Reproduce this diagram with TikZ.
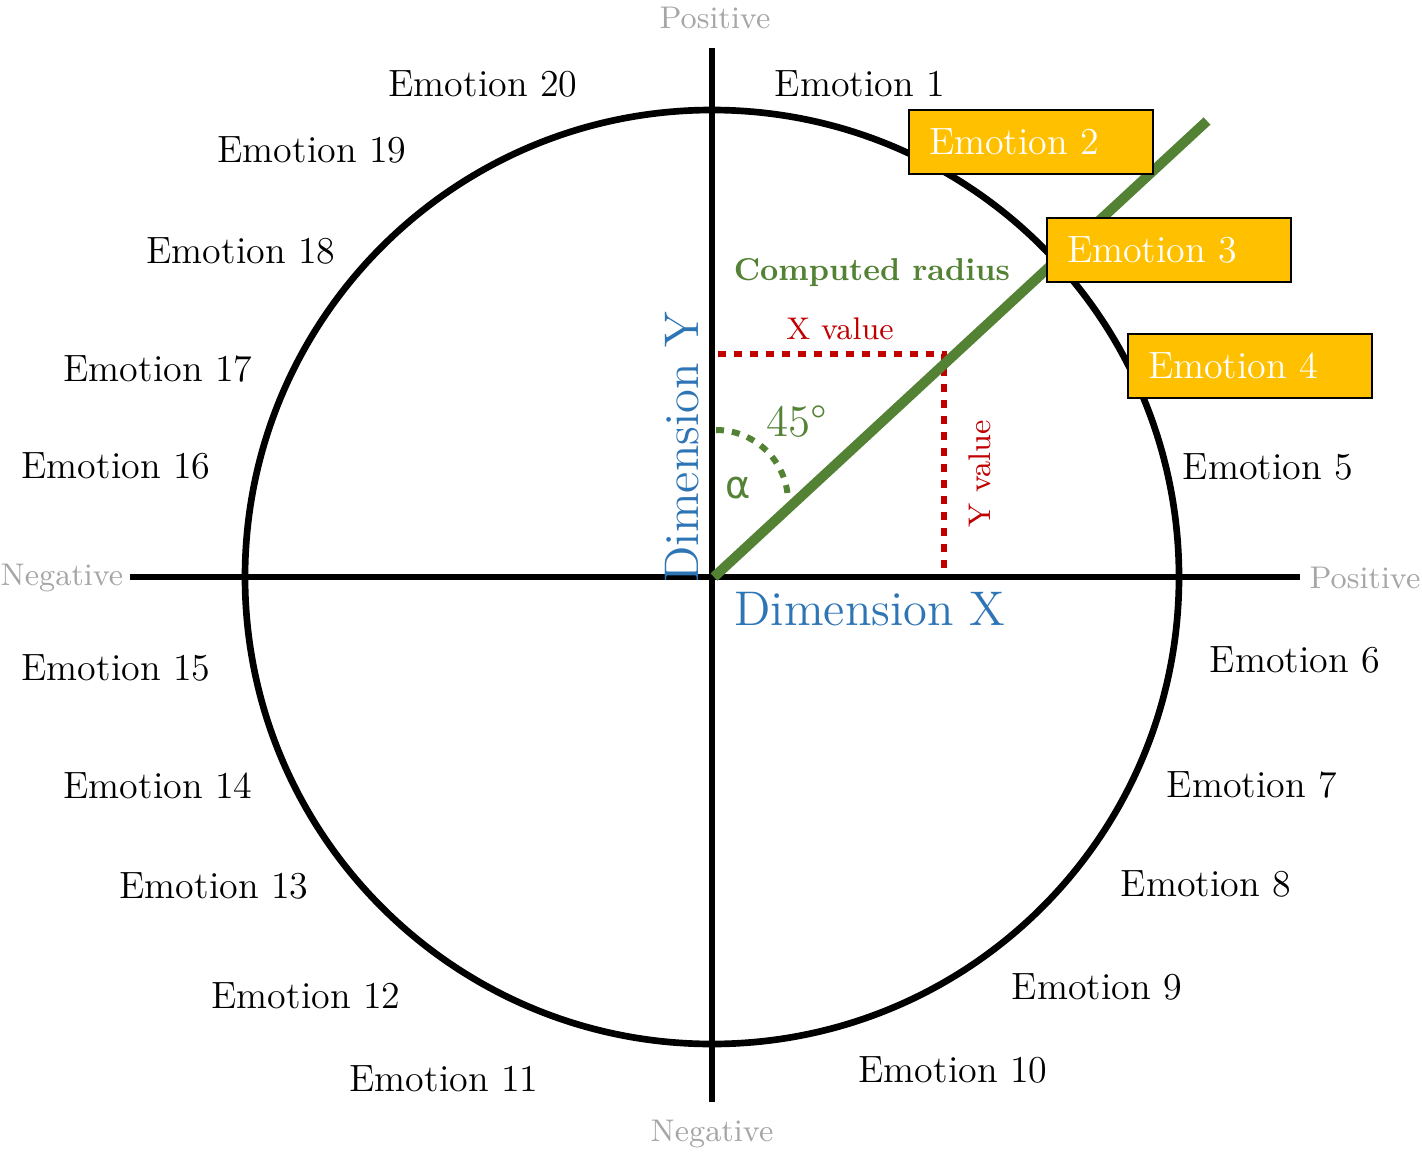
\documentclass[tikz,border=0pt]{standalone}
\usepackage{fontspec}
\newfontfamily\dejavu{DejaVu Sans}
\definecolor{cgreen}{HTML}{548235}
\definecolor{cblue}{HTML}{2E75B6}
\definecolor{cred}{HTML}{C00000}
\definecolor{cgold}{HTML}{FFC000}
\definecolor{cgray}{HTML}{A6A6A6}
\begin{document}
\begin{tikzpicture}[x=0.3pt,y=-0.3pt,
  axisline/.style={line width=2pt,black},
  emo/.style={font=\fontsize{11.4}{13}\selectfont,inner sep=0pt},
  emobox/.style={draw=black,line width=0.4pt,fill=cgold,text=white,font=\fontsize{11.4}{13}\selectfont,
    minimum height=19.2pt,text width=61.2pt,inner xsep=6pt,inner ysep=0pt,align=left},
  polar/.style={text=cgray,font=\fontsize{9.4}{11}\selectfont,inner sep=0pt},
  dim/.style={text=cblue,font=\fontsize{14.6}{16}\selectfont,inner sep=0pt},
  reddot/.style={cred,line width=2pt,dash pattern=on 2.4pt off 2.4pt},
  greendot/.style={cgreen,line width=1.8pt,dash pattern=on 2.4pt off 2.4pt},
]
\useasboundingbox (0,0) rectangle (1422,1153);
% circle
\coordinate (C) at (712,577);
\draw[axisline] (C) circle[radius=140.1pt];
% axes
\coordinate (xl) at (130,577);
\coordinate (xr) at (1300,577);
\coordinate (yt) at (712,48);
\coordinate (yb) at (712,1102);
\draw[axisline] (xl) -- (xr);
\draw[axisline] (yt) -- (yb);
% polar labels
\node[polar] (ptop) at (715,18) {Positive};
\node[polar] (pright) at (1365,578) {Positive};
\node[polar] (nleft) at (62,578) {Negative};
\node[polar] (nbot) at (712,1134) {Negative};
% red dotted projections
\coordinate (xv0) at (718,354);
\coordinate (P) at (944,354);
\coordinate (yv1) at (944,572);
\draw[reddot] (xv0) -- (P) -- (yv1);
% green radius
\coordinate (O) at (714,577);
\coordinate (R) at (1207,121);
\draw[cgreen,line width=3pt] (O) -- (R);
% angle arc
\coordinate (A0) at (716,430);
\draw[greendot] (A0) arc[start angle=90,end angle=5,radius=21.6pt];
% labels
\node[text=cgreen,font=\fontsize{13.5}{15}\selectfont,inner sep=0pt] (ang) at (797,422) {45°};
\node[text=cgreen,font=\dejavu\fontsize{11.5}{13}\selectfont,inner sep=0pt] (alpha) at (738,488) {α};
\node[text=cgreen,font=\bfseries\fontsize{9.5}{11}\selectfont,inner sep=0pt] (crad) at (872,273) {Computed radius};
\node[text=cred,font=\fontsize{9.4}{11}\selectfont,inner sep=0pt] (xval) at (840,329) {X value};
\node[text=cred,font=\fontsize{9.4}{11}\selectfont,inner sep=0pt,rotate=90] (yval) at (980,474) {Y value};
\node[dim,rotate=90] (dimy) at (682,447) {Dimension Y};
\node[dim] (dimx) at (870,609) {Dimension X};
% emotions
\node[emo] (e1) at (860,84) {Emotion 1};
\node[emobox] (e2) at (1031,142) {Emotion 2};
\node[emobox] (e3) at (1169,250) {Emotion 3};
\node[emobox] (e4) at (1250,366) {Emotion 4};
\node[emo] (e5) at (1268,467) {Emotion 5};
\node[emo] (e6) at (1295,660) {Emotion 6};
\node[emo] (e7) at (1252,785) {Emotion 7};
\node[emo] (e8) at (1206,884) {Emotion 8};
\node[emo] (e9) at (1097,987) {Emotion 9};
\node[emo] (e10) at (953,1070) {Emotion 10};
\node[emo] (e11) at (444,1079) {Emotion 11};
\node[emo] (e12) at (306,996) {Emotion 12};
\node[emo] (e13) at (214,886) {Emotion 13};
\node[emo] (e14) at (158,786) {Emotion 14};
\node[emo] (e15) at (116,668) {Emotion 15};
\node[emo] (e16) at (116,466) {Emotion 16};
\node[emo] (e17) at (158,369) {Emotion 17};
\node[emo] (e18) at (241,251) {Emotion 18};
\node[emo] (e19) at (312,150) {Emotion 19};
\node[emo] (e20) at (483,84) {Emotion 20};
\end{tikzpicture}
\end{document}
